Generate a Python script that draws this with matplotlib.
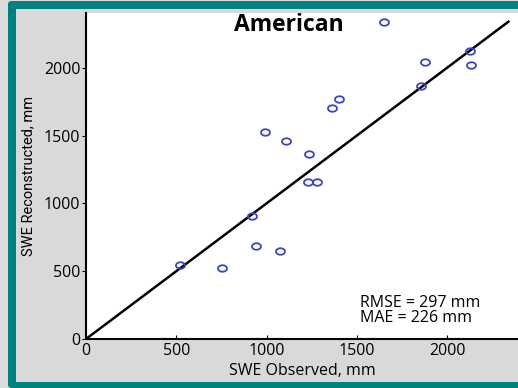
import numpy as np
import matplotlib.pyplot as plt
from matplotlib.patches import FancyBboxPatch, Rectangle

# data
observed = [1649, 2129, 1880, 2133, 1854, 1400, 1365, 992, 1110, 1235,
            1232, 1278, 921, 942, 521, 755, 1073]
reconstructed = [2340, 2124, 2045, 2018, 1866, 1772, 1704, 1527, 1462, 1364,
                 1160, 1160, 907, 686, 548, 526, 651]
one_to_one = [0, 2340]
xticks = [0, 500, 1000, 1500, 2000]
yticks = [0, 500, 1000, 1500, 2000]

plt.rcParams['font.family'] = ['Open Sans', 'DejaVu Sans']

W, H = 518, 388
fig = plt.figure(figsize=(W / 100, H / 100), dpi=100, facecolor='#dcdcdc')

def px(x0, y0, x1, y1):
    # pixel box (top-down) -> figure fraction (x, y, w, h)
    return x0 / W, 1 - y1 / H, (x1 - x0) / W, (y1 - y0) / H

# teal frame
teal = '#00827f'
x, y, w, h = px(8, 1, 540, 382 + 6)
fig.patches.append(FancyBboxPatch((x, y), w, h, boxstyle='round,pad=0,rounding_size=0.008',
                                  transform=fig.transFigure, facecolor=teal,
                                  edgecolor='none', zorder=-10))
x, y, w, h = px(16, 9, 540, 382)
fig.patches.append(Rectangle((x, y), w, h, transform=fig.transFigure,
                             facecolor='#d9d9d9', edgecolor='none', zorder=-9))

ax = fig.add_axes(px(86, 13, 518, 339))
ax.set_facecolor('white')

t = np.linspace(0, 2 * np.pi, 30)
ell = np.column_stack([np.cos(t), 0.72 * np.sin(t)])

ax.plot(one_to_one, one_to_one, 'k-', lw=1.8)
ax.plot(observed, reconstructed, linestyle='none', marker=ell, ms=6.5,
        mfc='none', mec='#3a47b8', mew=1.3)

ax.set_xlim(0, 2393)
ax.set_ylim(0, 2404)
ax.set_xticks(xticks)
ax.set_yticks(yticks)
ax.tick_params(axis='x', direction='in', length=3, labelsize=11.5, pad=3)
ax.tick_params(axis='y', direction='out', length=3, labelsize=11.5, pad=1)
for s in ['top', 'right']:
    ax.spines[s].set_visible(False)
for s in ['left', 'bottom']:
    ax.spines[s].set_linewidth(1.5)

ax.set_xlabel('SWE Observed, mm', fontsize=11.5, labelpad=3)
ax.set_ylabel('SWE Reconstructed, mm', fontsize=10.5, labelpad=6,
              family=['Roboto', 'DejaVu Sans'])
ax.text(0.47, 1.0, 'American', transform=ax.transAxes, ha='center',
        va='top', fontsize=16.5, fontweight='bold')
ax.text(1520, 95, 'RMSE = 297 mm\nMAE = 226 mm', fontsize=11.5,
        linespacing=0.92, va='bottom', ha='left')

fig.savefig('out.png', dpi=100, facecolor=fig.get_facecolor())
